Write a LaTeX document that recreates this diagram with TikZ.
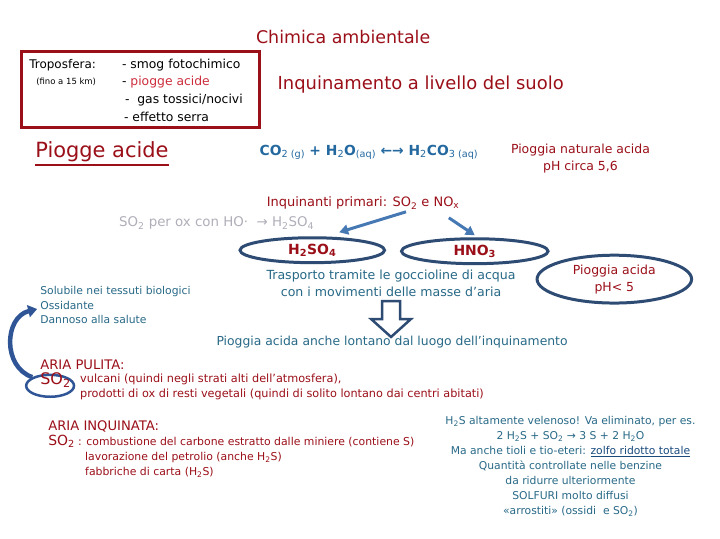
\documentclass[tikz,border=0pt]{standalone}
\usepackage{fontspec}
\setmainfont{DejaVu Sans}
\usetikzlibrary{shapes.geometric,arrows.meta}

\definecolor{rosso}{RGB}{155,15,25}
\definecolor{rossochiaro}{RGB}{205,45,60}
\definecolor{bluequ}{RGB}{35,105,160}
\definecolor{acqua}{RGB}{40,105,135}
\definecolor{grigio}{RGB}{175,175,185}
\definecolor{bordo}{RGB}{45,75,115}
\definecolor{blufr}{RGB}{70,120,180}
\definecolor{blucurva}{RGB}{47,85,151}
\definecolor{bluzolfo}{RGB}{25,75,125}
\newcommand{\fsz}[2]{\fontsize{#1}{#2}\selectfont}

\begin{document}
\begin{tikzpicture}[x=1pt,y=-1pt,
  txt/.style={inner sep=0pt},
  ovale/.style={draw=bordo,line width=3pt,ellipse,inner sep=0pt},
  frec/.style={draw=blufr,line width=3pt,-{Triangle[length=9pt,width=10pt]}}]
   \path[fill=white] (0,0) rectangle (720,540);

   % titoli
   \node[txt,text=rosso,font=\fsz{17.5}{20}] (titolo) at (342,37) {Chimica ambientale};
   \node[draw=rosso,line width=3pt,minimum width=239pt,minimum height=76pt] (tropo) at (138.5,90) {};
   \node[txt,anchor=west,font=\fsz{12}{14}] (tr1) at (27,65) {Troposfera:};
   \node[txt,anchor=west,font=\fsz{8.5}{10}] (tr2) at (34,82) {(fino a 15 km)};
   \node[txt,anchor=west,font=\fsz{12.4}{14}] (ef1) at (120,65) {- smog fotochimico};
   \node[txt,anchor=west,font=\fsz{12.4}{14}] (ef2) at (120,82) {- \textcolor{rossochiaro}{piogge acide}};
   \node[txt,anchor=west,font=\fsz{12.4}{14}] (ef3) at (123,100) {-\ \ gas tossici/nocivi};
   \node[txt,anchor=west,font=\fsz{12.4}{14}] (ef4) at (122,117) {- effetto serra};

   \node[txt,anchor=west,text=rosso,font=\fsz{18}{22}] (suolo) at (276,85) {Inquinamento a livello del suolo};
   \node[txt,anchor=west,text=rosso,font=\fsz{21}{24}] (piogge) at (33,152) {Piogge acide};
   \path[draw=rosso,line width=2pt] ([yshift=-3pt]piogge.south west) -- ([yshift=-3pt]piogge.south east);

   % equilibrio
   \node[txt,anchor=west,text=bluequ,font=\fsz{13.9}{16}] (equil) at (258,153)
     {\textbf{CO}\textsubscript{2 (g)} \textbf{+ H}\textsubscript{2}\textbf{O}\textsubscript{(aq)} \textbf{←→ H}\textsubscript{2}\textbf{CO}\textsubscript{3 (aq)}};
   \node[txt,text=rosso,align=center,font=\fsz{12.5}{17}] (natur) at (580,159) {Pioggia naturale acida\\pH circa 5,6};

   % inquinanti
   \node[txt,text=rosso,font=\fsz{13}{15}] (inq) at (362,204) {Inquinanti primari: SO\textsubscript{2} e NO\textsubscript{x}};
   \node[txt,anchor=west,text=grigio,font=\fsz{13.4}{15}] (ox) at (117,224) {SO\textsubscript{2} per ox con HO·\ \ → H\textsubscript{2}SO\textsubscript{4}};
   \node[ovale,minimum width=145pt,minimum height=25pt,text=rosso,font=\bfseries\fsz{14}{16}] (h2so4) at (311,251) {H\textsubscript{2}SO\textsubscript{4}};
   \node[ovale,minimum width=147pt,minimum height=25pt,text=rosso,font=\bfseries\fsz{14}{16}] (hno3) at (474,252) {HNO\textsubscript{3}};
   \path[frec] ([xshift=43pt,yshift=-2pt]inq.south) -- ([xshift=27pt,yshift=4pt]h2so4.north);
   \path[frec] ([xshift=86pt,yshift=-8pt]inq.south) -- ([yshift=2pt]hno3.north);

   \node[txt,text=acqua,align=center,font=\fsz{12.6}{17}] (trasp) at (390,284) {Trasporto tramite le goccioline di acqua\\con i movimenti delle masse d’aria};
   \node[ovale,minimum width=155pt,minimum height=48pt,text=rosso,align=center,font=\fsz{12.5}{17}] (acida) at (614,280) {Pioggia acida\\pH< 5};

   % freccia vuota
   \draw[bordo,line width=2.5pt,fill=white] (381,302) -- (399,302) -- (399,320) -- (410,320) -- (390,338) -- (370,320) -- (381,320) -- cycle;
   \node[txt,text=acqua,font=\fsz{12.4}{14}] (lontano) at (391,343) {Pioggia acida anche lontano dal luogo dell’inquinamento};

   \node[txt,anchor=west,text=acqua,align=left,font=\fsz{10.8}{14.5}] (solub) at (38,306) {Solubile nei tessuti biologici\\Ossidante\\Dannoso alla salute};

   % aria pulita
   \node[ovale,line width=2.5pt,draw=blucurva,minimum width=48pt,minimum height=22pt] (so2ring) at (48,387) {};
   \node[txt,anchor=west,text=rosso,font=\fsz{13.2}{15}] (pulita) at (38,366) {ARIA PULITA:};
   \node[txt,anchor=west,text=rosso,font=\fsz{16}{18}] (so2a) at (38,381) {SO\textsubscript{2}};
   \node[txt,anchor=west,text=rosso,align=left,font=\fsz{11.3}{15}] (vulc) at (78,388.5) {vulcani (quindi negli strati alti dell’atmosfera),\\prodotti di ox di resti vegetali (quindi di solito lontano dai centri abitati)};
   \path[draw=blucurva,line width=4.5pt,-{Triangle[length=9pt,width=12pt]}] (so2ring.north west) .. controls (0,368) and (2,318) .. ([xshift=-3pt,yshift=-4pt]solub.west);

   % aria inquinata
   \node[txt,anchor=west,text=rosso,font=\fsz{13.2}{15}] (inquin) at (46,428) {ARIA INQUINATA:};
   \node[txt,anchor=west,text=rosso,font=\fsz{14}{16}] (so2b) at (46,443) {SO\textsubscript{2}};
   \node[txt,anchor=west,text=rosso,font=\fsz{10.9}{12}] (comb) at (76,443) {: combustione del carbone estratto dalle miniere (contiene S)};
   \node[txt,anchor=west,text=rosso,align=left,font=\fsz{10.9}{15}] (lavor) at (83,466.5) {lavorazione del petrolio (anche H\textsubscript{2}S)\\fabbriche di carta (H\textsubscript{2}S)};

   % blocco a destra
   \node[txt,text=acqua,align=center,font=\fsz{10.8}{15}] (h2s) at (570,468)
     {H\textsubscript{2}S altamente velenoso! Va eliminato, per es.\\
      2 H\textsubscript{2}S + SO\textsubscript{2} → 3 S + 2 H\textsubscript{2}O\\
      Ma anche tioli e tio-eteri: \textcolor{bluzolfo}{\underline{zolfo ridotto totale}}\\
      Quantità controllate nelle benzine\\
      da ridurre ulteriormente\\
      SOLFURI molto diffusi\\
      «arrostiti» (ossidi\ \ e SO\textsubscript{2})};

\end{tikzpicture}
\end{document}
